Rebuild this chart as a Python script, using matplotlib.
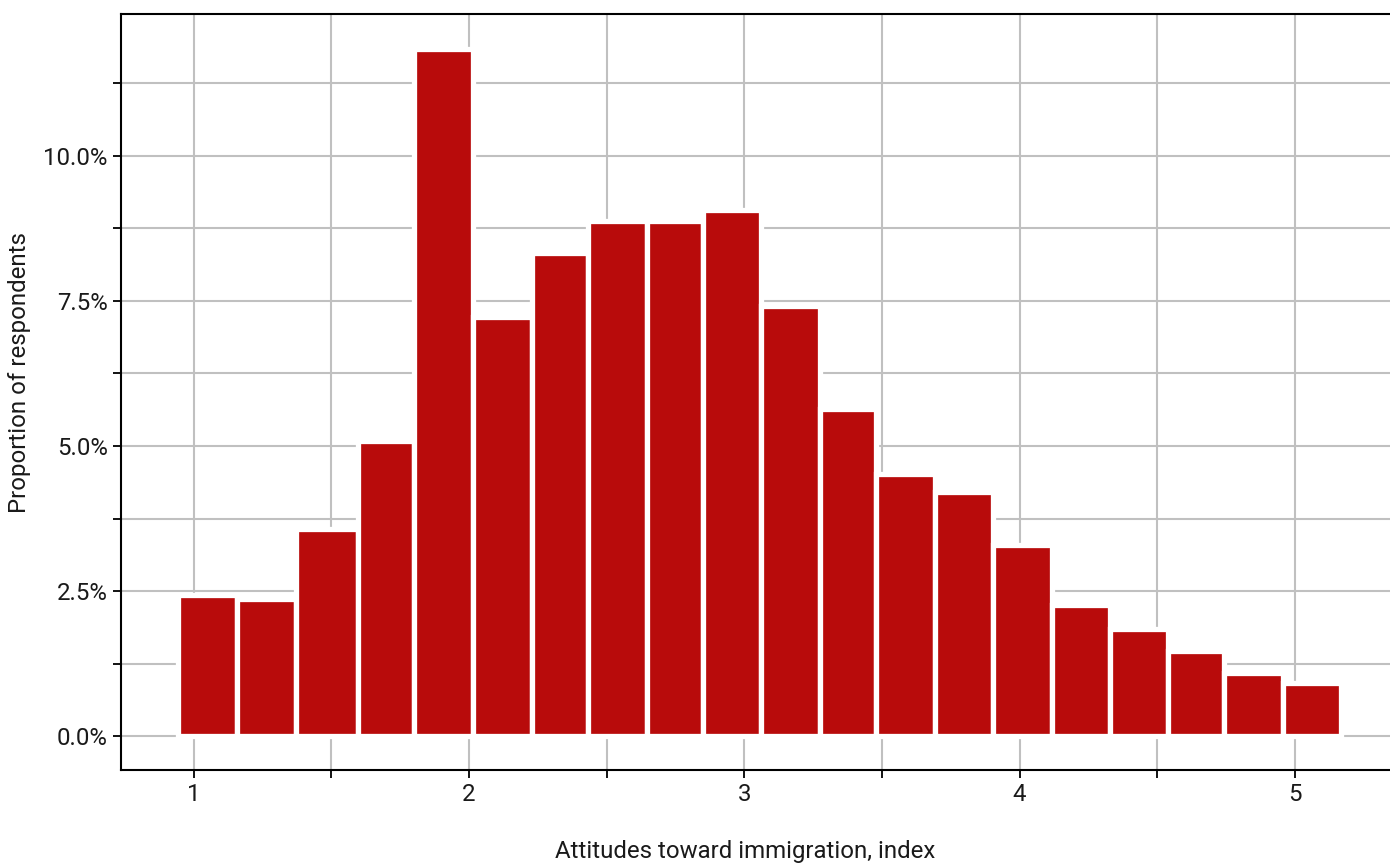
import matplotlib
matplotlib.use("Agg")
import matplotlib.pyplot as plt
import numpy as np
from matplotlib.ticker import FixedLocator, FuncFormatter

plt.rcParams['font.family'] = ['Roboto', 'DejaVu Sans']

# Data (histogram bins)
bin_edges = [0.944, 1.158, 1.371, 1.597, 1.801, 2.015, 2.227, 2.432, 2.646, 2.851, 3.060,
             3.275, 3.478, 3.693, 3.903, 4.118, 4.328, 4.539, 4.744, 4.957, 5.166]
proportions = [0.0243, 0.0236, 0.0357, 0.0508, 0.1184, 0.0722, 0.0833, 0.0888, 0.0888, 0.0907,
               0.0741, 0.0564, 0.0452, 0.0421, 0.0329, 0.0226, 0.0185, 0.0146, 0.0108, 0.0092]
x_major = [1, 2, 3, 4, 5]
x_minor = [1.5, 2.5, 3.5, 4.5]
y_major = [0.0, 0.025, 0.05, 0.075, 0.10]
y_minor = [0.0125, 0.0375, 0.0625, 0.0875, 0.1125]
x_title = "Attitudes toward immigration, index"
y_title = "Proportion of respondents"

W, H = 1390, 864
fig = plt.figure(figsize=(W / 100, H / 100), dpi=100)
ax = fig.add_axes([121 / W, 1 - 770 / H, (W - 121) / W, (770 - 14) / H])

lefts = np.array(bin_edges[:-1])
widths = np.diff(bin_edges)
ax.bar(lefts, proportions, width=widths, align="edge", color="#b80b0b",
       edgecolor="white", linewidth=3.8, zorder=3)

ax.set_xlim(0.7359, 5.3454)
ax.set_ylim(-0.00586, 0.12448)

ax.xaxis.set_major_locator(FixedLocator(x_major))
ax.xaxis.set_minor_locator(FixedLocator(x_minor))
ax.yaxis.set_major_locator(FixedLocator(y_major))
ax.yaxis.set_minor_locator(FixedLocator(y_minor))
ax.yaxis.set_major_formatter(FuncFormatter(lambda v, p: f"{v*100:.1f}%"))
ax.xaxis.set_major_formatter(FuncFormatter(lambda v, p: f"{v:g}"))

ax.set_axisbelow(True)
for which in ("major", "minor"):
    ax.grid(True, which=which, color="#c0c0c0", linewidth=1.5, zorder=0)

ax.tick_params(which="both", length=5.5, width=1.3, color="black",
               labelsize=17.3, labelcolor="#1a1a1a", pad=4)
ax.tick_params(which="minor", labelleft=False, labelbottom=False)

for s in ("left", "bottom", "top"):
    ax.spines[s].set_color("black")
    ax.spines[s].set_linewidth(1.5)
ax.spines["right"].set_visible(False)

fig.text(745.5 / W, (H - 858) / H, x_title, ha="center", va="baseline",
         fontsize=17.3, color="#1a1a1a")
fig.text(20 / W, 1 - 373 / H, y_title, ha="center", va="center", rotation=90,
         fontsize=17.3, color="#1a1a1a")

fig.savefig("out.png", dpi=100, facecolor="white")
